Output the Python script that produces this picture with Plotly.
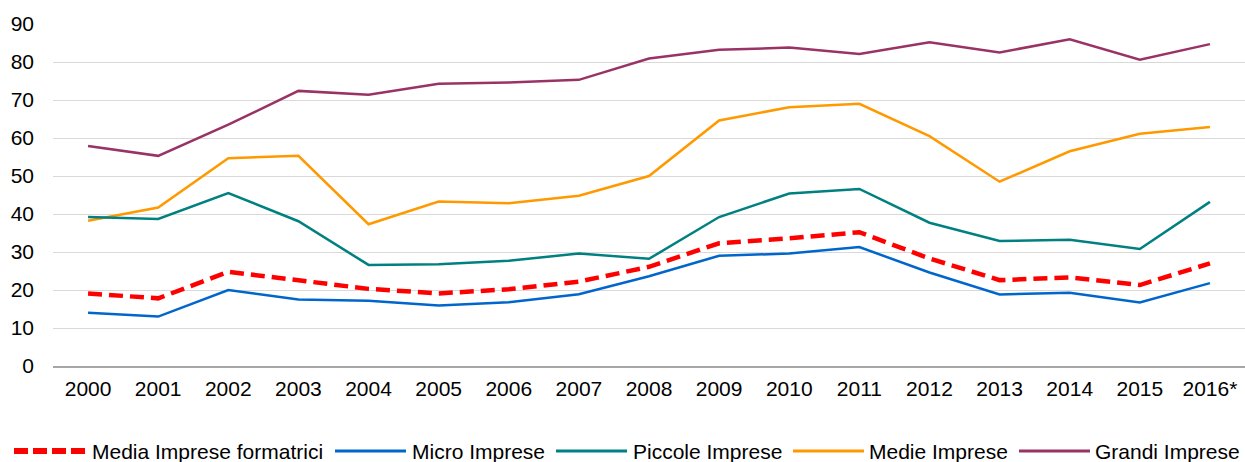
import plotly.graph_objects as go

years = ["2000", "2001", "2002", "2003", "2004", "2005", "2006", "2007", "2008",
         "2009", "2010", "2011", "2012", "2013", "2014", "2015", "2016*"]

media_formatrici = [19.1, 17.8, 24.8, 22.6, 20.3, 19.1, 20.2, 22.2, 26.1,
                    32.3, 33.6, 35.2, 28.3, 22.6, 23.3, 21.3, 27.0]
micro = [14.0, 13.0, 20.0, 17.5, 17.2, 15.9, 16.8, 18.9, 23.6,
         29.0, 29.6, 31.3, 24.6, 18.8, 19.3, 16.7, 21.8]
piccole = [39.2, 38.7, 45.5, 38.1, 26.6, 26.8, 27.7, 29.6, 28.2,
           39.2, 45.4, 46.6, 37.7, 32.9, 33.2, 30.8, 43.2]
medie = [38.2, 41.7, 54.7, 55.3, 37.3, 43.3, 42.8, 44.8, 50.0,
         64.6, 68.1, 69.0, 60.5, 48.5, 56.5, 61.1, 62.9]
grandi = [57.9, 55.3, 63.5, 72.4, 71.4, 74.3, 74.6, 75.3, 80.9,
          83.2, 83.8, 82.1, 85.2, 82.5, 86.0, 80.6, 84.7]

y_ticks = [0, 10, 20, 30, 40, 50, 60, 70, 80, 90]

series = [
    ("Media Imprese formatrici", media_formatrici, "#FF0000", 4.5, "14px,7px"),
    ("Micro Imprese", micro, "#0066CC", 2.5, "solid"),
    ("Piccole Imprese", piccole, "#008080", 2.5, "solid"),
    ("Medie Imprese", medie, "#FF9900", 2.5, "solid"),
    ("Grandi Imprese", grandi, "#993366", 2.5, "solid"),
]

W, H = 1245, 462
ML, MR, MT, MB = 53, 0, 24, 96
PW = W - ML - MR
PH = H - MT - MB
FS = 21

fig = go.Figure()
# draw later series first so the red average stays on top
for name, vals, color, width, dash in reversed(series):
    fig.add_trace(go.Scatter(
        x=years, y=vals, mode="lines", name=name,
        line=dict(color=color, width=width, dash=dash),
        showlegend=False,
    ))

# custom legend (layout positions in pixels)
legend_sym_start = [14, 335, 556, 793, 1019]
legend_text_start = [92, 412, 633, 869, 1095]
sym_len = 71
legend_y_px = 451

def px_to_paper_x(px):
    return (px - ML) / PW

def px_to_paper_y(py):
    return (H - MB - py) / PH

shapes = []
annotations = []
ly = px_to_paper_y(legend_y_px)
for (name, vals, color, width, dash), sx, tx in zip(series, legend_sym_start, legend_text_start):
    if dash == "solid":
        shapes.append(dict(type="line", xref="paper", yref="paper",
                           x0=px_to_paper_x(sx), x1=px_to_paper_x(sx + sym_len),
                           y0=ly, y1=ly, line=dict(color=color, width=3)))
    else:
        shapes.append(dict(type="line", xref="paper", yref="paper",
                           x0=px_to_paper_x(sx), x1=px_to_paper_x(sx + sym_len),
                           y0=ly, y1=ly, line=dict(color=color, width=6, dash="14px,5px")))
    annotations.append(dict(text=name, xref="paper", yref="paper",
                            x=px_to_paper_x(tx), y=ly, xanchor="left", yanchor="middle",
                            xshift=-2, showarrow=False, font=dict(size=FS, color="#000000")))

fig.update_layout(
    width=W, height=H,
    margin=dict(l=ML, r=MR, t=MT, b=MB, pad=0),
    paper_bgcolor="white", plot_bgcolor="white",
    font=dict(family="Liberation Sans, Arial, sans-serif", size=FS, color="#000000"),
    showlegend=False,
    shapes=shapes,
    annotations=annotations,
    xaxis=dict(
        type="category", range=[-0.5, 16.5],
        showgrid=False, showline=True, linecolor="#A6A6A6", linewidth=1.5,
        ticks="", tickfont=dict(size=FS), ticklabelstandoff=3,
        fixedrange=True,
    ),
    yaxis=dict(
        range=[0, 90], tickvals=y_ticks, showgrid=True, gridcolor="#D9D9D9", gridwidth=1,
        zeroline=False, showline=False, ticks="", tickfont=dict(size=FS),
        ticklabelstandoff=18, fixedrange=True,
    ),
)

fig.write_html("out.html", config={"displayModeBar": False},
               post_script="document.body.style.margin='0px';document.body.style.overflow='hidden';")
